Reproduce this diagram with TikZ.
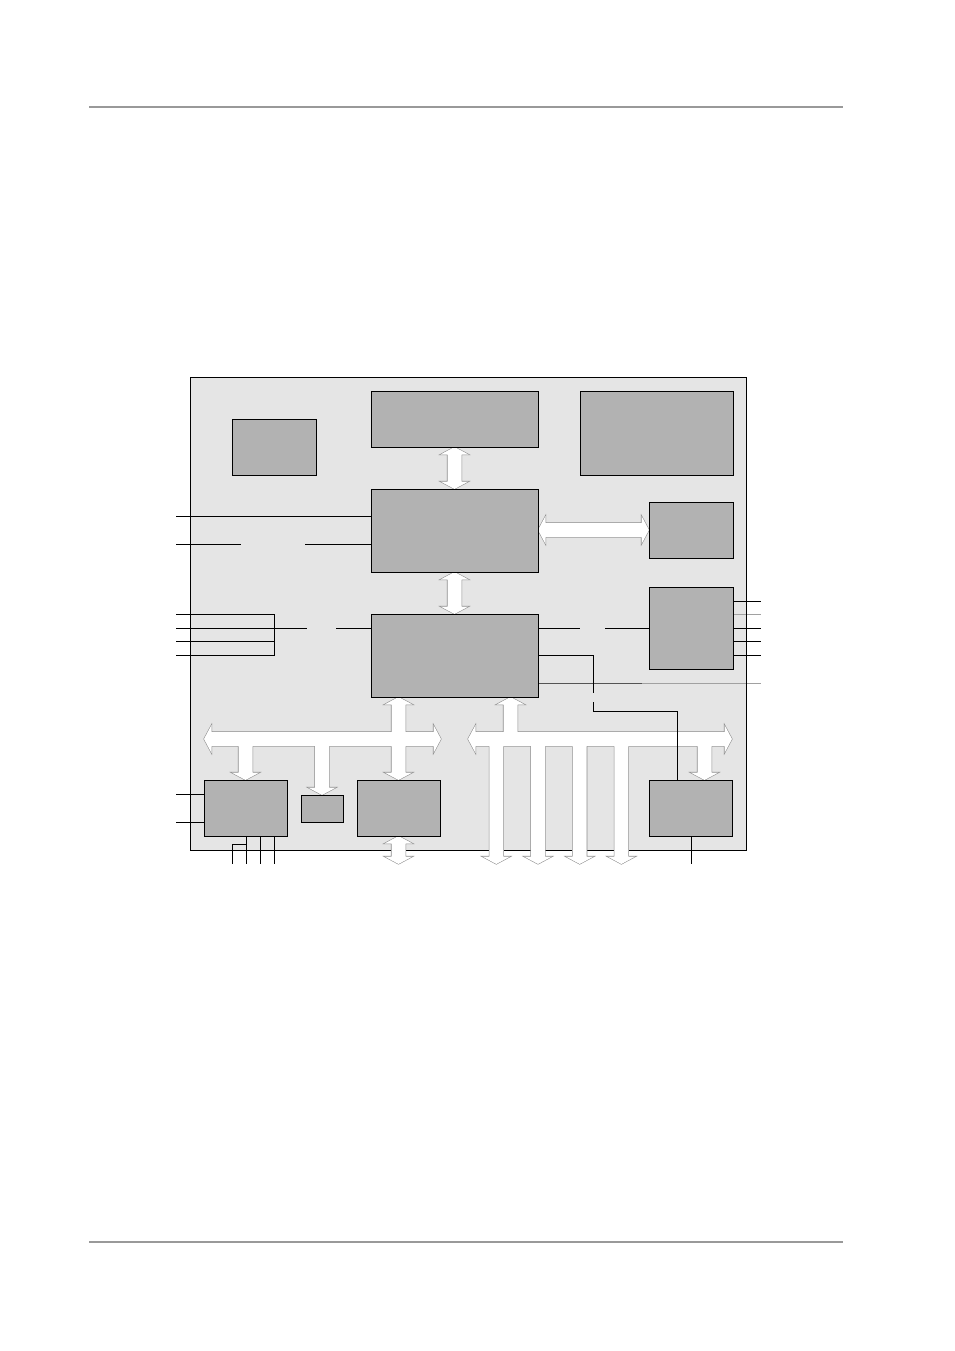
\documentclass[tikz,border=0pt]{standalone}
\usetikzlibrary{calc,backgrounds}
\definecolor{boardgray}{gray}{0.9}
\definecolor{boxgray}{gray}{0.7}
\definecolor{edgegray}{gray}{0.55}
\definecolor{rulegray}{gray}{0.6}
\definecolor{wiredark}{gray}{0.33}
\definecolor{wirelight}{gray}{0.63}
\tikzset{
  blk/.style 2 args={draw=black, fill=boxgray, line width=0.22mm, inner sep=0pt,
    outer sep=0pt, minimum width=#1*0.22mm, minimum height=#2*0.22mm},
  wire/.style={line width=0.22mm},
  busedge/.style={draw=edgegray, line width=0.24mm},
  rule/.style={rulegray, line width=0.44mm}
}
\newcommand\vdouble[2]{(#1) -- ($(#1)+(14,7.5)$) -- ($(#1)+(7,7.5)$) -- ($(#2)+(7,-7.5)$)
  -- ($(#2)+(14,-7.5)$) -- (#2) -- ($(#2)+(-14,-7.5)$) -- ($(#2)+(-7,-7.5)$)
  -- ($(#1)+(-7,7.5)$) -- ($(#1)+(-14,7.5)$) -- cycle}
\newcommand\hdouble[2]{(#1) -- ($(#1)+(7.5,-14)$) -- ($(#1)+(7.5,-7)$) -- ($(#2)+(-7.5,-7)$)
  -- ($(#2)+(-7.5,-14)$) -- (#2) -- ($(#2)+(-7.5,14)$) -- ($(#2)+(-7.5,7)$)
  -- ($(#1)+(7.5,7)$) -- ($(#1)+(7.5,14)$) -- cycle}
\newcommand\vdown[2]{($(#1)+(-7,0)$) -- ($(#1)+(7,0)$) -- ($(#2)+(7,-7.5)$)
  -- ($(#2)+(14,-7.5)$) -- (#2) -- ($(#2)+(-14,-7.5)$) -- ($(#2)+(-7,-7.5)$) -- cycle}
\newcommand\vup[2]{(#1) -- ($(#1)+(14,7.5)$) -- ($(#1)+(7,7.5)$) -- ($(#2)+(7,0)$)
  -- ($(#2)+(-7,0)$) -- ($(#1)+(-7,7.5)$) -- ($(#1)+(-14,7.5)$) -- cycle}
\newcommand\busnet{
  \vdouble{B.south}{D.north}
  \vdouble{D.south}{F.north}
  \hdouble{dE}{E.west}
  \hdouble{busL1}{busL2}
  \hdouble{busR1}{busR2}
  \vdown{bH}{H.north}
  \vdown{bI}{I.north}
  \vdouble{fJ}{J.north}
  \vdouble{J.south}{jOut}
  \vup{fUp}{bF}
  \vdown{bK}{kIn}
  \vdown{o0}{t0}
  \vdown{o1}{t1}
  \vdown{o2}{t2}
  \vdown{o3}{t3}
}
\begin{document}
\begin{tikzpicture}[x=0.22mm,y=-0.22mm]
  \useasboundingbox (0,0) rectangle (954,1351);
  \draw[rule] (89,107) -- (843,107);
  \draw[rule] (89,1242) -- (843,1242);

  \node[blk={84}{56}] (A) at (274,447) {};
  \node[blk={167}{56}] (B) at (454.5,419) {};
  \node[blk={153}{84}] (C) at (656.5,433) {};
  \node[blk={167}{83}] (D) at (454.5,530.5) {};
  \node[blk={84}{56}] (E) at (691,530) {};
  \node[blk={167}{83}] (F) at (454.5,655.5) {};
  \node[blk={84}{82}] (G) at (691,628) {};
  \node[blk={83}{56}] (H) at (245.5,808) {};
  \node[blk={42}{27}] (I) at (322,808.5) {};
  \node[blk={83}{56}] (J) at (398.5,808) {};
  \node[blk={83}{56}] (K) at (690.5,808) {};

  \coordinate (dE) at (D.east |- E.west);
  \coordinate (busL1) at (204,739);
  \coordinate (busL2) at (441,739);
  \coordinate (busR1) at (468,739);
  \coordinate (busR2) at (732,739);
  \coordinate (bH) at (H.north |- busL1);
  \coordinate (bI) at (I.north |- busL1);
  \coordinate (fJ) at (J.north |- F.south);
  \coordinate (jOut) at ($(J.south)+(0,28)$);
  \coordinate (fUp) at ($(F.south)+(56,0)$);
  \coordinate (bF) at (fUp |- busR1);
  \coordinate (kIn) at ($(K.north)+(14,0)$);
  \coordinate (bK) at (kIn |- busR1);
  \foreach \i in {0,...,3} {
    \coordinate (o\i) at ($(bF)+(-14.2+41.7*\i,0)$);
    \coordinate (t\i) at ($(o\i)+(0,125)$);
  }
  \foreach \y [count=\n] in {614,628,641.5,655} \coordinate (pin\n) at (176,\y);
  \foreach \y [count=\n] in {601,614,628,641.5,655.5,683} \coordinate (out\n) at (761,\y);

  \begin{pgfonlayer}{background}
    \fill[boardgray] (190,377) rectangle (746,850);
    \draw[wiredark, line width=0.22mm] (out6 -| F.east) -- ++(104,0);
    \draw[wirelight, line width=0.22mm] ($(out6 -| F.east)+(104,0)$) -- (out6);
    \draw[wirelight, line width=0.22mm] (out2 -| G.east) -- (out2);
    \draw[wire] (190,377) rectangle (746,850);
    \draw[busedge] \busnet;
    \fill[white] \busnet;
  \end{pgfonlayer}

  \coordinate (w1) at (176,516);
  \coordinate (w2) at (176,544);
  \draw[wire] (w1) -- (w1 -| D.west);
  \draw[wire] (w2) -- ++(65,0);
  \draw[wire] (w2 -| D.west) -- ++(-66,0);
  \draw[wire] (pin1) -- ++(98,0) |- (pin4);
  \draw[wire] (pin3) -- ++(98,0);
  \draw[wire] (pin2) -- ++(131,0);
  \draw[wire] (pin2 -| F.west) -- ++(-35,0);
  \draw[wire] (F.east |- G.west) -- ++(42,0);
  \draw[wire] (G.west) -- ++(-44,0);
  \draw[wire] (F.east) -| ++(55,37);
  \draw[wire] ($(K.north)+(-13.5,0)$) |- ++(-84,-69) -- ++(0,-9);
  \foreach \n in {1,3,4,5} \draw[wire] (out\n -| G.east) -- (out\n);
  \draw[wire] (176,794) -- (H.west |- 0,794);
  \draw[wire] (176,822) -- (H.west |- 0,822);
  \foreach \dx in {1,15,29} \draw[wire] ($(H.south)+(\dx,0)$) -- ++(0,28);
  \draw[wire] ($(H.south)+(1,8)$) -| ++(-14,20);
  \draw[wire] ($(K.south)+(0.5,0)$) -- ++(0,28);
\end{tikzpicture}
\end{document}
